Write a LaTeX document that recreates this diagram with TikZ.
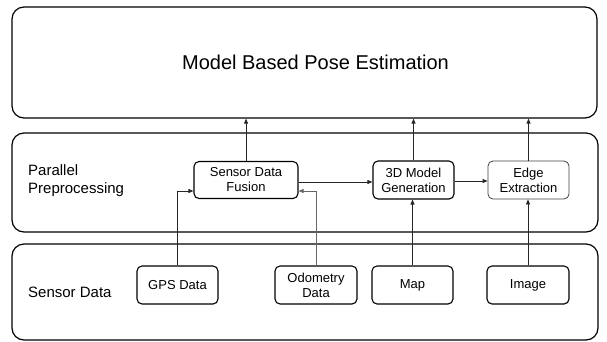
\documentclass[tikz,border=0pt]{standalone}
\usepackage{fontspec}
\setmainfont{Liberation Sans}
\usetikzlibrary{arrows.meta}
\begin{document}
\begin{tikzpicture}[x=1pt,y=-1pt,
  layer/.style={draw=black,line width=1.2pt,rounded corners=12pt,inner sep=0pt,anchor=center},
  block/.style={draw=black,line width=1.1pt,rounded corners=5pt,inner sep=0pt,anchor=center,
    minimum width=81pt,minimum height=38pt,align=center,font=\fontsize{13}{15}\selectfont},
  sidelabel/.style={anchor=west,align=left,inner sep=0pt,font=\fontsize{15}{18}\selectfont},
  link/.style={draw=black!85,line width=0.8pt,-{Triangle[length=5pt,width=4pt]}}]
  \useasboundingbox (0,0) rectangle (607,341);

  % three layers
  \node[layer,minimum width=585pt,minimum height=111pt] (top) at (304.5,62.5) {};
  \node[font=\fontsize{20}{24}\selectfont,inner sep=0pt] (title) at (315.5,62.5) {Model Based Pose Estimation};
  \node[layer,minimum width=586pt,minimum height=99pt] (mid) at (305,182.5) {};
  \node[layer,minimum width=586pt,minimum height=96pt] (bot) at (305,292) {};

  \node[sidelabel] (midlabel) at (28,181) {Parallel\\Preprocessing};
  \node[sidelabel] (botlabel) at (28,292) {Sensor Data};

  % preprocessing blocks
  \node[block,minimum width=104pt,minimum height=37pt] (sdf) at (246,180) {Sensor Data\\Fusion};
  \node[block] (gen) at (413.5,180) {3D Model\\Generation};
  \node[block,draw=black!75,line width=0.8pt] (edge) at (528.5,180) {Edge\\Extraction};

  % sensor inputs
  \node[block] (gps) at (177.5,285) {GPS Data};
  \node[block,minimum width=82pt] (odo) at (316,285) {Odometry\\Data};
  \node[block] (map) at (412.5,285) {Map};
  \node[block,minimum width=82pt] (img) at (528,285) {Image};

  % connectors
  \coordinate (sdfin) at ([yshift=-11pt]sdf.west);
  \coordinate (sdfin2) at ([yshift=-11pt]sdf.east);
  \draw[link] (sdf.north) -- (sdf.north |- top.south);
  \draw[link] (gen.north) -- (gen.north |- top.south);
  \draw[link] (edge.north) -- (edge.north |- top.south);
  \draw[link] ([yshift=-2pt]sdf.east) -- ([yshift=-2pt]gen.west);
  \draw[link] ([yshift=-1pt]gen.east) -- ([yshift=-1pt]edge.west);
  \draw[link] (gps.north) |- (sdfin);
  \draw[link,draw=black!60] (odo.north) |- (sdfin2);
  \draw[link] (map.north) -- (map.north |- gen.south);
  \draw[link] (img.north) -- (img.north |- edge.south);
\end{tikzpicture}
\end{document}
